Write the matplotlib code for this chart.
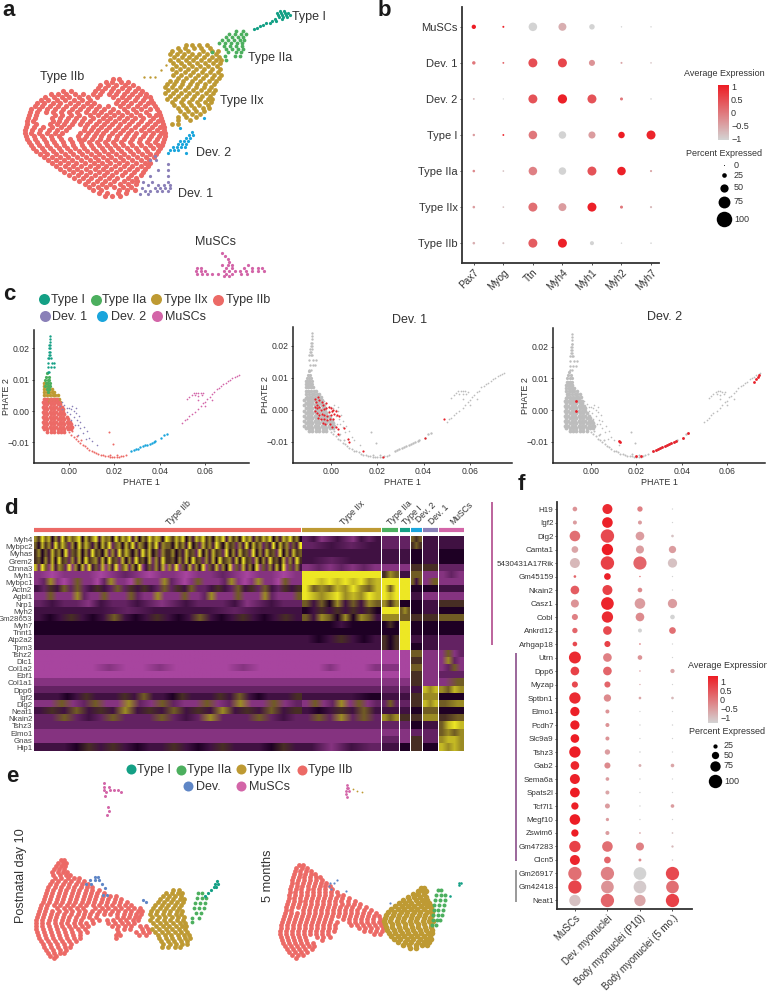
import numpy as np
import matplotlib
matplotlib.use('Agg')
import matplotlib.pyplot as plt
from matplotlib.colors import LinearSegmentedColormap, Normalize
from matplotlib.cm import ScalarMappable

plt.rcParams['font.family'] = ['Liberation Sans', 'DejaVu Sans']

W, H = 767, 992
C_I, C_IIA, C_IIX, C_IIB = '#14A085', '#4CAF5E', '#BE9A33', '#EC6A66'
C_D1, C_D2, C_MU, C_DEV = '#8A80B8', '#1AA5DC', '#D365A8', '#5F86C6'
TXT = '#333333'

# panel a, UMAP: {y: [x, ...]}
A_IIB = {
    79: [113, 119],
    82: [106, 112, 121, 128],
    85: [100, 108, 116, 125, 133],
    88: [98, 105, 113, 122, 129, 138],
    91: [63, 71, 95, 102, 111, 118, 127, 135, 142],
    94: [51, 58, 66, 75, 83, 93, 100, 109, 116, 124, 132, 140, 146],
    97: [45, 54, 62, 69, 79, 88, 97, 113, 122, 129, 137, 145, 150],
    100: [41, 48, 57, 65, 74, 82, 90, 118, 126, 135, 143, 151],
    103: [37, 44, 53, 60, 70, 78, 87, 94, 116, 123, 131, 140, 148, 153],
    106: [35, 42, 50, 58, 66, 75, 83, 91, 99, 108, 120, 128, 137, 145, 155],
    109: [31, 39, 47, 55, 63, 72, 80, 88, 96, 104, 113, 124, 133, 141, 150, 157],
    112: [30, 37, 46, 53, 61, 69, 77, 86, 94, 101, 110, 118, 127, 136, 146, 159],
    115: [29, 36, 55, 62, 71, 79, 90, 98, 106, 114, 122, 131, 140, 149, 156, 160],
    118: [28, 35, 52, 60, 68, 76, 84, 93, 103, 110, 119, 127, 135, 143, 153, 161],
    121: [27, 33, 53, 59, 66, 74, 82, 90, 99, 107, 115, 124, 132, 141, 150, 158, 162],
    124: [27, 36, 50, 57, 64, 72, 80, 87, 96, 104, 112, 120, 129, 138, 147, 155, 163],
    127: [26, 34, 43, 52, 61, 69, 85, 93, 101, 109, 118, 126, 135, 144, 152, 160, 164],
    130: [25, 32, 40, 49, 57, 66, 84, 91, 98, 106, 115, 123, 131, 141, 149, 157, 164],
    133: [25, 31, 39, 47, 55, 62, 80, 88, 96, 103, 112, 120, 128, 136, 145, 153, 161, 165],
    136: [26, 34, 42, 51, 59, 78, 86, 94, 101, 109, 117, 126, 134, 143, 151, 159, 165],
    139: [27, 35, 44, 52, 61, 70, 79, 84, 92, 100, 108, 116, 124, 132, 140, 149, 157, 164],
    142: [29, 37, 46, 54, 63, 72, 81, 89, 97, 105, 113, 121, 130, 139, 147, 155, 163],
    145: [31, 39, 47, 56, 64, 73, 82, 91, 99, 107, 115, 123, 132, 141, 150, 158, 162],
    148: [33, 42, 50, 59, 67, 75, 84, 93, 102, 110, 118, 127, 136, 145, 153, 160],
    151: [36, 44, 53, 61, 70, 79, 87, 96, 104, 112, 121, 130, 138, 147, 158],
    154: [40, 47, 56, 65, 73, 82, 91, 99, 108, 116, 124, 133, 142, 150, 156],
    157: [44, 52, 60, 68, 77, 86, 95, 103, 111, 120, 128, 137, 146, 154],
    160: [48, 56, 64, 72, 81, 90, 98, 107, 115, 123, 132, 141, 149],
    163: [52, 60, 68, 76, 85, 94, 102, 110, 119, 127, 136, 145, 150],
    166: [56, 65, 73, 81, 90, 98, 106, 115, 124, 132, 141, 148],
    169: [60, 69, 77, 86, 95, 103, 111, 120, 129, 137, 145],
    172: [64, 73, 81, 90, 99, 107, 116, 125, 134, 143],
    175: [69, 78, 86, 95, 104, 112, 122, 131, 141],
    178: [74, 83, 91, 100, 109, 117, 128, 136],
    181: [79, 88, 97, 105, 114, 124, 132, 137],
    184: [85, 93, 102, 110, 120, 128, 136],
    187: [89, 98, 106, 114, 123, 131],
    190: [93, 101, 119, 127, 135],
    193: [99, 107, 118, 126],
    196: [105, 112, 120],
}
A_IIX = {
    45: [186, 192, 199, 207],
    48: [178, 185, 194, 201, 210],
    51: [172, 180, 188, 203, 212, 218],
    54: [170, 177, 184, 192, 199, 207, 216],
    57: [174, 182, 189, 196, 204, 212, 219],
    60: [170, 178, 186, 193, 201, 209, 216, 221],
    63: [173, 181, 189, 197, 205, 213, 220],
    66: [176, 184, 192, 200, 208, 217],
    69: [172, 180, 188, 196, 204, 212, 220],
    72: [176, 185, 193, 202, 210, 218],
    75: [173, 181, 190, 198, 206, 214, 221],
    78: [178, 186, 195, 203, 212, 219],
    81: [170, 176, 183, 192, 200, 209, 216],
    84: [167, 174, 182, 190, 197, 205, 214],
    87: [165, 172, 180, 188, 196, 204, 211],
    90: [168, 176, 185, 193, 201, 209, 215],
    93: [165, 173, 181, 189, 197, 206, 213],
    96: [170, 178, 186, 194, 202, 210],
    99: [167, 175, 183, 192, 200, 208, 212],
    102: [172, 181, 189, 197, 205, 211],
    105: [174, 183, 191, 199, 208],
    108: [178, 186, 194, 203, 209],
    111: [180, 188, 196, 204],
    114: [184, 192, 200],
    117: [178, 186, 196],
    120: [178, 190],
    124: [172, 178],
}
A_IIX_STRAY = {77: [155, 150, 144], 70: [161], 65: [166]}
A_IIA = {
    31: [236, 243],
    34: [229, 235, 241, 246],
    37: [226, 232, 238, 243],
    40: [222, 228, 234, 240, 244],
    43: [219, 225, 231, 237, 242],
    46: [224, 230, 236, 242],
    49: [226, 232, 238, 243],
    52: [236, 241, 228, 212],
    56: [240, 235, 225],
    60: [226],
}
A_I = {
    11: [280, 284],
    13: [277, 281, 285, 288],
    15: [278, 282, 286, 290],
    17: [279, 283, 287],
    19: [275, 282],
    21: [272, 276],
    23: [266, 270],
    25: [263],
    26: [260],
    28: [257],
    29: [254],
}
A_D2 = {
    132: [192],
    135: [189, 193],
    138: [186, 190],
    141: [184, 188, 180],
    144: [178, 182, 186],
    147: [173, 177, 181, 185],
    150: [170, 174, 178],
    153: [168, 186],
    128: [180],
    118: [204],
}
A_D1 = {
    164: [168],
    170: [168, 158],
    176: [168, 150],
    182: [168, 143, 152],
    185: [158, 164, 170, 148],
    188: [155, 160, 165, 170, 142],
    191: [157, 162, 168, 145, 150],
    194: [148, 140],
    160: [150, 156],
    156: [155],
}
A_MU = {
    253: [222],
    256: [225],
    259: [228],
    262: [229],
    265: [228, 232, 222, 248],
    268: [197, 201, 226, 232, 244, 252, 258, 262],
    271: [196, 201, 205, 224, 229, 235, 240, 246, 252, 258, 264],
    274: [197, 202, 207, 212, 218, 226, 232, 241, 247],
    276: [224, 229],
}

# panel c, PHATE 1 / PHATE 2 in thousandths: {phate2: [phate1, ...]}
PH_IIB_CORE = {
    -6.6: [-9.5, -8, -6.5, -5, -3.5, -2],
    -5.8: [-11, -9.5, -8, -6.5, -5, -3.5, -2, -0.5, 1],
    -5: [-11.5, -10, -8.5, -7, -5.5, -4, -2.5, -1, 0.5, 1.5],
    -4.2: [-11, -9.5, -8, -6.5, -5, -3.5, -2, -0.5, 1],
    -3.4: [-11.5, -10, -8.5, -7, -5.5, -4, -2.5, -1, 0.3],
    -2.6: [-11, -9.5, -8, -6.5, -5, -3.5, -2, -0.5],
    -1.8: [-11.5, -10, -8.5, -7, -5.5, -4, -2.5, -1],
    -1: [-11, -9.5, -8, -6.5, -5, -3.5, -2],
    -0.2: [-11.5, -10, -8.5, -7, -5.5, -4, -2.5],
    0.6: [-11, -9.5, -8, -6.5, -5, -3.5, -2.6],
    1.4: [-11.5, -10, -8.5, -7, -5.5, -4, -3],
    2.2: [-11, -9.5, -8, -6.5, -5, -3.8],
    3: [-11.5, -10, -8.5, -7, -5.5, -4.4],
    3.8: [-11, -9.5, -8, -6.5, -5.2],
}
PH_IIB_TAIL = [(0.1, -6.8), (1, -7.5), (2, -8.2), (3, -9), (4, -9.5), (5, -10.2), (6, -10.8), (7, -11.3),
               (8, -11.8), (9, -12.3), (10, -12.8), (11, -13), (12, -13.3), (13, -13.8), (14, -14), (15, -14.2),
               (16, -14.4), (17, -14.5), (18, -14.6), (19, -14.7), (20, -14.7), (21, -14.8), (22, -14.8),
               (23, -14.5), (24, -14.3), (25, -14), (1.5, -6.5), (3.5, -8), (5.5, -9.3), (18, -14), (21, -14.2),
               (19.5, -10.5), (17.5, -6.8)]
PH_IIX_CORE = {
    9: [-10.8, -9.5],
    8: [-11, -9.8, -8.6],
    7: [-11, -9.8, -8.6, -7.6],
    6: [-11, -9.8, -8.6, -7.4, -6.4],
    5: [-10.8, -9.6, -8.4, -7.2, -6, -5],
    4: [-10.4, -9.2, -8, -6.8, -5.6, -4.4],
    3: [-9.8, -8.6, -7.4, -6.2, -5, -3.8],
}
PH_IIA_CORE = {
    12: [-9.6],
    11: [-10, -9],
    10: [-10.4, -9.4, -8.6],
    9: [-10.2, -9.2, -8.4],
    8: [-10.4, -9.2, -8.2],
    7: [-9.8, -8.6],
    6: [-9.4],
}
PH_I_CORE = {
    24: [-8.3],
    23: [-8.4],
    22: [-8.4],
    21: [-8.6, -8.2],
    20: [-8.7, -8.2],
    19: [-8.9, -8.3],
    18: [-9, -8.5],
    17: [-9.3, -8.6, -8],
    15.5: [-9.4, -7.6, -6.4],
    14: [-9.2, -7.9, -6.8],
    12.5: [-9.4, -8.6],
}
PH_D1 = [(-4, 1.5), (-3, 0.5), (-2, 2), (-1, 1), (0, 1), (1, 0.5), (2, 0), (3, -0.5), (0.5, -0.8), (-1, -0.2),
         (2, -2), (1, -2.8), (3.5, -3), (4, -4.5), (5, -5.5), (6, -7), (7.5, -9), (10, -9.5), (1.5, 1.5), (-3, 2.8),
         (3, 1), (4.5, -1.5), (5, -3.5), (2.5, -4.5), (6.5, -5), (8, -6.5), (4, -7.5), (9, -8.5), (12.5, -11)]
PH_D2 = [(27.5, -12.9), (28.5, -12.5), (29.5, -12.2), (30.5, -12), (31.5, -11.5), (32.5, -11.2), (33.5, -11),
         (34.5, -10.7), (35.5, -10.4), (36.5, -10.1), (37.5, -9.8), (38, -9.5), (40.5, -8.7), (42, -7.5), (43, -7.2)]
PH_MU = [(50, -3.8), (51, -3), (52, -2.5), (53, -1.6), (54, -1), (55.5, -0.2), (57, 0.5), (58, 1.5), (59, 2.5),
         (60, 3), (61, 4), (62, 4.5), (63, 5.5), (64, 6), (65, 7), (66, 7.5), (67, 8), (68, 8.5), (69, 9), (70, 9.7),
         (71, 10), (72, 10.5), (73, 11), (74, 11.3), (74.8, 11.6), (54, 5.2), (55, 5.8), (56, 5.9), (57, 5.9),
         (58, 5.8), (59, 5.7), (55.5, 5), (57, 4.9), (58.5, 5), (53, 4.5), (52, 3.8), (57, 3.5), (60, 1.5), (63, 3.5)]
RED_D1 = [(-7, 3.5), (-6.5, 2.5), (-5.5, 4), (-5, 3), (-4, 2.5), (-6, 1.5), (-7, 1), (-5, 1), (-3.5, 1.5), (-2, 2),
          (-6, 0.5), (-4.5, 0), (-7, -0.3), (-3, 0.3), (-2, 0.5), (-1, 1), (0, 0.5), (1, 0), (2, -0.3), (0.5, -0.5),
          (-1, -0.8), (-6, -1), (-5, -1.5), (-4, -1.2), (-3, -1.5), (-1.5, -1.8), (0, -1.5), (1.2, -1.3), (2.5, -1.5),
          (3.5, -1.8), (-5.5, -2.5), (-4.5, -3), (-3, -2.7), (-1.8, -3.2), (-0.5, -3), (0.8, -2.8), (-3.5, -4),
          (-2.5, -4.5), (-0.5, -4.3), (0.5, -5.5), (2, -5.3), (3, -6), (3, -7.5), (5.5, -5.8), (7.5, -9), (8, -10),
          (14, -13), (22.5, -14.8), (40.5, -8.8), (49, -3)]
RED_D2 = [(27.5, -12.9), (28.5, -12.6), (29.5, -12.3), (30.5, -12.1), (31.5, -11.7), (32.5, -11.4), (33.5, -11.1),
          (34.5, -10.8), (35.5, -10.5), (36.5, -10.2), (37.5, -9.9), (40.5, -8.9), (43, -7.3), (72, 9), (72.7, 9.8),
          (73.5, 10.5), (74.2, 11.2), (-6.5, 3), (-6.5, -0.3), (12.3, -9.7), (12.6, -10.2), (22, -14.5), (20, -14.6)]

# panel e, UMAP
E1_IIB = {
    860: [61, 64],
    863: [58, 63, 66],
    866: [56, 61, 65],
    869: [54, 59, 64],
    872: [52, 58, 63, 67],
    875: [53, 60, 66, 70],
    878: [55, 61, 68, 74, 79],
    881: [52, 58, 65, 71, 78, 84],
    884: [50, 56, 63, 69, 76, 82, 88],
    887: [48, 55, 61, 68, 74, 81, 87, 92],
    890: [47, 53, 60, 66, 73, 79, 86, 92, 99],
    893: [46, 52, 59, 65, 72, 78, 85, 91, 97, 104],
    896: [45, 51, 58, 64, 71, 77, 84, 90, 96, 103, 110, 116],
    899: [44, 50, 57, 63, 70, 76, 83, 89, 95, 102, 108, 115, 121],
    902: [43, 49, 56, 62, 69, 75, 82, 88, 94, 101, 107, 114, 120, 127],
    905: [41, 47, 54, 60, 67, 73, 80, 86, 93, 99, 106, 112, 119, 125, 131],
    908: [40, 46, 57, 64, 70, 77, 83, 95, 102, 108, 115, 121, 128, 134, 140],
    911: [39, 45, 52, 59, 66, 72, 79, 85, 92, 99, 105, 112, 118, 125, 131, 138, 142],
    914: [38, 44, 51, 57, 64, 71, 78, 84, 90, 97, 104, 110, 117, 124, 130, 136, 141],
    917: [37, 43, 50, 56, 63, 69, 76, 83, 89, 96, 117, 123, 129, 135, 139],
    920: [36, 42, 49, 55, 62, 68, 75, 81, 92, 99, 107, 113, 120, 126, 133, 138],
    923: [36, 42, 48, 55, 61, 67, 74, 80, 86, 93, 108, 115, 122, 128, 134],
    926: [36, 42, 49, 56, 62, 69, 75, 82, 88, 112, 118, 125, 131, 140, 146],
    929: [36, 43, 50, 57, 64, 71, 78, 85, 117, 124, 130, 142, 148],
    932: [37, 44, 51, 58, 65, 72, 80, 87, 118, 136, 143, 149],
    935: [38, 45, 52, 59, 66, 73, 80, 116, 120, 139, 146],
    938: [39, 46, 53, 60, 67, 74, 80, 116],
    941: [41, 48, 55, 62, 69, 76],
    944: [43, 50, 57, 64, 71],
    947: [44, 51, 58, 65, 70],
    950: [46, 53, 60, 66],
    953: [48, 54, 60, 64],
    956: [50, 56],
    958: [54],
}
E1_IIX = {
    890: [173, 179],
    893: [166, 172, 178, 182],
    896: [163, 169, 175, 181],
    899: [160, 167, 173, 180, 184],
    902: [158, 164, 171, 177, 183],
    905: [155, 162, 168, 175, 181],
    908: [153, 160, 166, 173, 179],
    911: [151, 157, 164, 170, 177, 182],
    914: [150, 156, 163, 169, 176, 181],
    917: [152, 159, 165, 172, 178, 184],
    920: [150, 157, 164, 170, 177, 183],
    923: [153, 160, 166, 173, 180, 185],
    926: [156, 163, 169, 176, 182, 186],
    929: [152, 159, 166, 172, 179, 185],
    932: [155, 162, 168, 175, 181, 187],
    935: [158, 165, 171, 178, 184, 189],
    938: [159, 166, 172, 179, 185, 190],
    941: [161, 168, 174, 181, 187],
    944: [163, 170, 176, 182, 187],
    947: [162, 168, 175, 180],
}
E1_IIA = {
    893: [198, 202],
    898: [197, 202, 206],
    903: [195, 200, 205],
    908: [194, 199, 204],
    913: [196, 201],
    918: [192, 199],
    922: [192],
}
E1_I = {881: [217], 884: [215, 218], 887: [214, 216], 890: [211], 893: [208], 896: [205]}
E1_DEV = {877: [95, 98], 880: [90, 95, 99], 884: [86, 91, 102], 888: [105], 895: [103, 107], 900: [143], 902: [146]}
E1_MU = {783: [104], 787: [104, 109], 790: [104, 110, 114, 118], 792: [106, 121], 796: [105],
         807: [108], 811: [109], 815: [107]}
E2_IIB = {
    865: [299, 303],
    868: [296, 302, 307],
    871: [295, 300, 306, 311],
    874: [294, 300, 305, 311, 315],
    877: [293, 299, 304, 310, 316, 320],
    880: [292, 298, 304, 310, 316, 322],
    883: [292, 297, 303, 309, 315, 321, 326],
    886: [291, 297, 302, 308, 314, 320, 325, 330],
    889: [290, 296, 301, 308, 313, 319, 325, 332],
    892: [290, 295, 301, 307, 313, 319, 325, 331, 337],
    895: [289, 295, 301, 307, 313, 319, 325, 331, 338, 343],
    898: [289, 294, 300, 306, 312, 318, 324, 330, 336, 342, 349],
    901: [288, 294, 300, 305, 311, 317, 323, 329, 335, 341, 348, 355],
    904: [287, 293, 299, 305, 311, 317, 323, 329, 335, 342, 348, 354, 360],
    907: [286, 292, 298, 304, 310, 316, 322, 328, 334, 340, 346, 352, 359, 366],
    910: [286, 291, 303, 309, 315, 321, 327, 333, 339, 345, 351, 357, 364, 371],
    913: [285, 291, 297, 303, 309, 315, 321, 327, 333, 339, 345, 351, 357, 363, 369, 376],
    916: [284, 290, 296, 302, 308, 314, 320, 326, 332, 338, 344, 350, 356, 362, 368, 374, 379],
    919: [283, 289, 295, 301, 307, 313, 319, 325, 331, 343, 349, 355, 361, 367, 373, 380],
    922: [282, 288, 294, 300, 306, 312, 318, 324, 330, 337, 349, 355, 361, 367, 373, 379, 382],
    925: [281, 287, 293, 299, 305, 311, 317, 323, 329, 335, 351, 357, 363, 369, 375, 381],
    928: [281, 287, 293, 299, 305, 311, 317, 323, 329, 335, 359, 365, 371, 377, 383],
    931: [280, 286, 292, 298, 304, 310, 316, 322, 328, 334, 364, 370, 376, 382],
    934: [280, 286, 292, 298, 304, 310, 316, 322, 328, 374, 380],
    937: [281, 287, 293, 299, 305, 317, 323, 330],
    940: [282, 288, 294, 300, 306, 322],
    943: [283, 289, 295, 301, 307, 313],
    946: [285, 291, 297, 303, 309, 314],
    949: [287, 293, 299, 305, 312],
    952: [289, 295, 301, 307],
    955: [292, 298, 303],
    958: [296],
}
E2_IIX = {
    888: [421, 424],
    891: [418, 423, 426],
    894: [413, 418, 424],
    897: [408, 414, 420, 426],
    900: [403, 409, 416, 422, 427],
    903: [399, 405, 411, 418, 424, 429],
    906: [395, 402, 408, 414, 421, 427, 431],
    909: [391, 398, 404, 411, 417, 424, 431],
    912: [388, 394, 401, 407, 414, 420, 427, 432],
    915: [386, 393, 399, 406, 412, 419, 425, 432],
    918: [385, 391, 398, 404, 411, 417, 424, 430],
    921: [384, 390, 397, 403, 410, 416, 423, 429, 433],
    924: [385, 392, 398, 405, 411, 418, 424, 431],
    927: [386, 392, 399, 405, 412, 418, 425, 431],
    930: [387, 394, 400, 407, 413, 420, 426, 432],
    933: [389, 395, 402, 408, 415, 421, 428, 432],
    936: [391, 398, 404, 411, 417, 424, 430],
    939: [394, 400, 407, 413, 420, 426, 431],
    942: [398, 405, 411, 418, 424, 429],
    945: [403, 409, 416, 422, 427],
    948: [410, 416],
}
E2_IIA = {
    890: [438, 441],
    895: [436, 441, 445],
    900: [435, 440, 445],
    905: [434, 439, 444],
    910: [434, 438, 443],
    915: [433, 438, 442],
    920: [433, 437, 440],
    925: [432, 436],
}
E2_I = {883: [459, 461], 885: [459], 896: [450]}
E2_DEV = {880: [337], 883: [330, 334], 886: [329], 889: [331], 891: [346], 903: [390]}
E2_MU = {785: [347], 788: [347, 348], 791: [346, 349], 794: [346], 797: [347]}
E2_STRAY = {789: [353], 791: [357], 792: [362]}

# panel b
B_GENES = ['Pax7', 'Myog', 'Ttn', 'Myh4', 'Myh1', 'Myh2', 'Myh7']
B_ROWS = ['Type IIb', 'Type IIx', 'Type IIa', 'Type I', 'Dev. 2', 'Dev. 1', 'MuSCs']
B_PCT = [[11, 7, 55, 55, 21, 3, 4],
         [11, 5, 55, 48, 55, 14, 8],
         [11, 5, 52, 45, 55, 52, 8],
         [10, 6, 52, 45, 42, 38, 55],
         [6, 2, 55, 57, 55, 14, 4],
         [17, 6, 55, 55, 35, 7, 4],
         [23, 7, 52, 48, 31, 3, 3]]
B_EXP = [[-0.6, -0.8, 0.3, 0.95, -1, -1, -1],
         [-0.4, -0.8, 0.1, -0.4, 0.95, 0, -0.7],
         [-0.2, -0.8, -0.1, -1, 0.4, 0.95, -0.5],
         [-0.4, 0.9, 0, -1, -0.4, 1, 0.9],
         [-0.7, -1, 0.4, 0.95, 0.4, 0, -1],
         [0, 0.2, 0.45, 0.55, -0.3, -0.5, -0.8],
         [1, 0.9, -1, -0.6, -1, -1, -1]]

# panel f
F_COLS = ['MuSCs', 'Dev. myonuclei', 'Body myonuclei (P10)', 'Body myonuclei (5 mo.)']
F_GENES = ['H19', 'Igf2', 'Dlg2', 'Camta1', '5430431A17Rik', 'Gm45159', 'Nkain2', 'Casz1', 'Cobl', 'Ankrd12',
           'Arhgap18', 'Utrn', 'Dpp6', 'Myzap', 'Sptbn1', 'Elmo1', 'Pcdh7', 'Slc9a9', 'Tshz3', 'Gab2', 'Sema6a',
           'Spats2l', 'Tcf7l1', 'Megf10', 'Zswim6', 'Gm47283', 'Clcn5', 'Gm26917', 'Gm42418', 'Neat1']
F_PCT = [[28, 72, 34, 1], [23, 77, 23, 1], [77, 100, 61, 12], [45, 83, 56, 50], [72, 100, 98, 66],
         [12, 45, 2, 1], [61, 72, 28, 1], [56, 94, 77, 66], [40, 83, 61, 28], [34, 61, 23, 45],
         [28, 40, 4, 1], [88, 61, 28, 1], [61, 61, 2, 25], [40, 40, 1, 1], [83, 50, 12, 12],
         [66, 23, 1, 1], [66, 23, 2, 2], [61, 23, 1, 1], [83, 34, 3, 1], [61, 40, 14, 20],
         [72, 20, 2, 1], [70, 23, 2, 1], [50, 31, 2, 20], [77, 17, 2, 1], [50, 23, 4, 4],
         [83, 77, 56, 9], [72, 45, 14, 2], [99, 99, 94, 99], [99, 94, 94, 94], [83, 99, 83, 99]]
F_EXP = [[-0.3, 0.85, -0.1, -1], [-0.4, 0.95, -0.4, -1], [0.1, 0.5, -0.4, -0.8], [-0.5, 1, -0.4, -0.4],
         [-0.7, 0.6, 0.2, -0.8], [0.2, 0.95, 0.1, -1], [0.3, 0.6, -0.2, -1], [-0.3, 0.9, -0.4, -0.4],
         [-0.1, 0.85, -0.2, -1], [0.2, 0.5, -1, 0.1], [0.5, 0.6, -0.1, -1], [0.85, -0.1, -0.3, -1],
         [0.6, 0.2, -0.3, -0.5], [0.5, 0.2, -0.5, -1], [0.85, -0.2, -0.5, -0.7], [0.95, -0.3, -1, -1],
         [0.95, -0.3, -1, -1], [1, -0.3, -1, -1], [1, -0.4, -1, -1], [0.9, -0.2, -0.6, -0.5],
         [0.95, -0.4, -1, -1], [1, -0.5, -1, -1], [0.95, -0.4, -1, -0.4], [1, -0.4, -1, -1],
         [1, -0.4, -0.5, -0.8], [0.6, 0.1, -0.1, -0.7], [0.9, 0.2, -0.2, -0.9], [0.1, -0.1, -1, 0.5],
         [0.55, -0.3, -0.9, 0.1], [-0.8, 0.2, -0.5, 0.6]]

# panel d, one digit per stripe, 0 magenta, 4 black, 9 yellow
D_GENES = ['Myh4', 'Mybpc2', 'Myhas', 'Grem2', 'Ctnna3', 'Myh1', 'Mybpc1', 'Actn2', 'Agbl1', 'Nrp1', 'Myh2',
           'Gm28653', 'Myh7', 'Tnnt1', 'Atp2a2', 'Tpm3', 'Tshz2', 'Dlc1', 'Col1a2', 'Ebf1', 'Col1a1', 'Dpp6',
           'Igf2', 'Dlg2', 'Neat1', 'Nkain2', 'Tshz3', 'Elmo1', 'Gnas', 'Hip1']
D_IIB = ['75968473958679485793867495869384759687497586947386957486938574968375869473869574',
         '64857395862749586374859267485937648593766485739462857396485627394857263948572639',
         '57463857492658473956482739586473958462755746385629473856294738562947385629473856',
         '56473849562738495673849562847395648273955647384956273849567384956284739564827395',
         '82961837629174829362817391682749136273817291638274916382749162837491627384916273',
         '1011101210110112101101',
         '1271016110271106111721016111271017110611', '3253626235326253532625362235326352632535',
         '1161117211611162117111611271116111721116', '2322132232123222312322', '3332333233',
         '3435343634353436343534353', '4', '4', '3', '3', '0', '0', '0000100100001000', '0', '1', '2',
         '3334353335363345333536343335', '116126117216211612711612', '3536353735363537353635',
         '2262326222623272226232', '2', '1', '1', '3334535343353435333453']
D_IIX = ['2312321323', '2323', '3', '3233', '1212121', '9', '9989898978', '9676879768', '9878978798',
         '6364736376', '4353535354', '6376474763', '4443444', '4', '3435343', '3', '0', '0', '0010001', '0', '1', '2',
         '3334', '161271612', '3435363', '2627262', '2', '1', '1', '3132']
D_IIA = ['2', '2', '3', '3', '1', '576', '9', '969', '989', '757', '9', '7', '454', '4', '545', '545', '0', '0', '1',
         '0', '1', '2', '3', '262', '3', '767', '2', '1', '2', '3']
D_I = ['2', '2', '3', '3', '1', '3', '9', '9', '9', '4', '676', '6', '9', '9', '9', '9', '0', '0', '0', '0', '1', '2',
       '3', '2', '3', '5', '2', '1', '1', '4']
D_D2 = ['656', '565', '4', '4', '5', '6', '636', '4', '3', '4', '4', '5', '4', '4', '3', '4', '6', '5', '6', '5', '5',
        '3', '5', '5', '4', '5', '4', '2', '5', '5']
D_D1 = ['3', '3', '3', '3', '5', '1', '16', '4', '1', '3', '3', '5', '4', '4', '3', '3', '1', '1', '1', '1', '1',
        '878', '7', '878', '6', '7', '3', '2', '2', '4']
D_MU = ['3', '3', '4', '4', '2', '121', '1', '3', '1', '5', '4', '6', '4', '4', '2', '2', '1612', '1721', '1261', '2',
        '16', '7687', '4', '67', '4', '56', '6898', '6767', '7887', '8787']
D_GROUPS = [('Type IIb', D_IIB, C_IIB), ('Type IIx', D_IIX, C_IIX), ('Type IIa', D_IIA, C_IIA), ('Type I', D_I, C_I),
            ('Dev. 2', D_D2, C_D2), ('Dev. 1', D_D1, C_D1), ('MuSCs', D_MU, C_MU)]
D_EDGES = [(34, 301), (302, 381), (382, 398), (400, 410), (411, 422), (423, 438), (439, 464)]

DOT_CMAP = LinearSegmentedColormap.from_list('dot', ['#D3D3D3', '#ED1C24'])
HEAT_CMAP = LinearSegmentedColormap.from_list('heat', [(0, '#A8459F'), (4 / 9, '#1E0024'), (1, '#EDE724')])

fig = plt.figure(figsize=(W / 100, H / 100), dpi=100)


def px_ax(l, t, r, b):
    return fig.add_axes([l / W, 1 - b / H, (r - l) / W, (b - t) / H])


def flat(rows):
    pts = [(x, y) for y, xs in rows.items() for x in xs]
    return np.array(pts, dtype=float)


def sz(d):
    return (d * 0.72) ** 2


def cloud(ax, rows, color, d):
    pts = flat(rows)
    ax.scatter(pts[:, 0], pts[:, 1], s=sz(d), c=color, linewidths=0)


def umap_ax(l, t, r, b):
    ax = px_ax(l, t, r, b)
    ax.set_xlim(l, r)
    ax.set_ylim(b, t)
    ax.axis('off')
    return ax


# overlay for loose text, in pixels of the figure
ov = umap_ax(0, 0, W, H)
ov.set_zorder(10)
ov.patch.set_alpha(0)

for s, x, y in [('a', 9, 10), ('b', 384, 10), ('c', 9, 295), ('d', 11, 509), ('e', 12, 777), ('f', 521, 484)]:
    ov.text(x, y, s, fontsize=16, fontweight='bold', color='#1a1a1a', ha='center', va='center')

# a
ax = umap_ax(0, 0, 380, 290)
cloud(ax, A_IIB, C_IIB, 5.2)
cloud(ax, A_IIX, C_IIX, 4.8)
cloud(ax, A_IIX_STRAY, C_IIX, 2.4)
cloud(ax, A_IIA, C_IIA, 3.8)
cloud(ax, A_I, C_I, 3.2)
cloud(ax, A_D2, C_D2, 3.2)
cloud(ax, A_D1, C_D1, 3.2)
cloud(ax, A_MU, C_MU, 3.2)
for s, x, y in [('Type I', 309, 17), ('Type IIa', 270, 58), ('Type IIx', 242, 101), ('Type IIb', 62, 77),
                ('Dev. 2', 214, 153), ('Dev. 1', 196, 194), ('MuSCs', 215, 242)]:
    ov.text(x, y, s, fontsize=9, color=TXT, ha='center', va='center')


def dotplot(ax, xlabels, ylabels, pct, exp, scale, fs_y, fs_x):
    pct = np.array(pct, dtype=float)
    exp = np.array(exp, dtype=float)
    xx, yy = np.meshgrid(np.arange(len(xlabels)), np.arange(len(ylabels)))
    d = scale[0] + scale[1] * pct
    ax.scatter(xx.ravel(), yy.ravel(), s=sz(d.ravel()), c=exp.ravel(), cmap=DOT_CMAP, vmin=-1, vmax=1,
               linewidths=0, clip_on=False, zorder=3)
    ax.set_xticks(np.arange(len(xlabels)))
    ax.set_xticklabels(xlabels, rotation=45, ha='right', rotation_mode='anchor', fontsize=fs_x, color=TXT)
    ax.set_yticks(np.arange(len(ylabels)))
    ax.set_yticklabels(ylabels, fontsize=fs_y, color=TXT)
    ax.tick_params(length=1.5, width=0.6, pad=1.5, color='#333333')
    for k in ['top', 'right']:
        ax.spines[k].set_visible(False)
    for k in ['left', 'bottom']:
        ax.spines[k].set_linewidth(1.3)
        ax.spines[k].set_color('#333333')


def dot_legend(bar, lim, cticks, title1, title2, vals, ys, xdot, xlab, scale, fs):
    ov.text(title1[0], title1[1], 'Average Expression', fontsize=fs, color=TXT, ha='center', va='center')
    ov.text(title2[0], title2[1], 'Percent Expressed', fontsize=fs, color=TXT, ha='center', va='center')
    cax = px_ax(*bar)
    cb = fig.colorbar(ScalarMappable(Normalize(-lim, lim), DOT_CMAP), cax=cax, ticks=cticks)
    cb.outline.set_visible(False)
    cb.ax.set_yticklabels([str(t).replace('-', '\u2212') for t in cticks], fontsize=fs, color=TXT)
    cb.ax.tick_params(length=0, pad=1.5)
    for v, y in zip(vals, ys):
        ov.scatter([xdot], [y], s=sz(scale[0] + scale[1] * v), c='black', linewidths=0)
        ov.text(xlab, y, str(v), fontsize=fs, color=TXT, ha='left', va='center')


# b
ax = px_ax(462, 7, 659, 263)
ax.set_xlim(-0.4, 6.27)
ax.set_ylim(-0.55, 6.55)
dotplot(ax, B_GENES, B_ROWS, B_PCT, B_EXP, (1, 0.145), 8, 7.2)
dot_legend((718, 85, 729, 140), 1.05, [-1, -0.5, 0, 0.5, 1], (724, 73), (724, 154), [0, 25, 50, 75, 100],
           [165, 175, 188, 202, 219], 724, 734, (1, 0.145), 6.5)

# c
PH_ALL = [(PH_IIX_CORE, C_IIX, 3.6), (PH_IIB_CORE, C_IIB, 3.8), (PH_IIA_CORE, C_IIA, 3.2), (PH_I_CORE, C_I, 2.4)]
PH_SMALL = [(PH_IIB_TAIL, C_IIB, 2), (PH_D1, C_D1, 1.6), (PH_D2, C_D2, 2.4), (PH_MU, C_MU, 1.7)]
GRAY = '#BDBDBD'


def phate_ax(l, t, r, b, xlim, ylim):
    ax = px_ax(l, t, r, b)
    ax.set_xlim(*xlim)
    ax.set_ylim(*ylim)
    ax.set_xticks([0, 0.02, 0.04, 0.06])
    ax.set_xticklabels(['0.00', '0.02', '0.04', '0.06'])
    ax.set_yticks([-0.01, 0, 0.01, 0.02])
    ax.set_yticklabels(['\u22120.01', '0.00', '0.01', '0.02'])
    ax.tick_params(labelsize=6.2, length=1.5, width=0.6, pad=1.5, colors=TXT)
    ax.set_xlabel('PHATE 1', fontsize=6.5, color=TXT, labelpad=1)
    ax.set_ylabel('PHATE 2', fontsize=6.5, color=TXT)
    ax.yaxis.set_label_coords(-23 / (r - l), 0.5)
    for k in ['top', 'right']:
        ax.spines[k].set_visible(False)
    for k in ['left', 'bottom']:
        ax.spines[k].set_linewidth(1.1)
        ax.spines[k].set_color('#222222')
    for rows, col, d in PH_ALL:
        pts = flat(rows) * 1e-3
        ax.scatter(pts[:, 0], pts[:, 1], s=sz(d), c=col, linewidths=0)
    for pts, col, d in PH_SMALL:
        pts = np.array(pts) * 1e-3
        ax.scatter(pts[:, 0], pts[:, 1], s=sz(d), c=col, linewidths=0)
    return ax


c1 = phate_ax(34, 330, 249, 463, (-0.0154, 0.0793), (-0.0166, 0.0259))
PH_ALL = [(r, GRAY, d) for r, _, d in PH_ALL]
PH_SMALL = [(p, GRAY, d) for p, _, d in PH_SMALL]
c2 = phate_ax(293, 327, 512, 463, (-0.0164, 0.0782), (-0.0166, 0.0259))
pts = np.array(RED_D1) * 1e-3
c2.scatter(pts[:, 0], pts[:, 1], s=sz(2.2), c='#E8202A', linewidths=0, zorder=4)
c3 = phate_ax(553, 328, 765, 463, (-0.0168, 0.0768), (-0.0167, 0.0259))
pts = np.array(RED_D2) * 1e-3
c3.scatter(pts[:, 0], pts[:, 1], s=sz(2.8), c='#E8202A', linewidths=0, zorder=4)
ov.text(410, 320, 'Dev. 1', fontsize=9, color=TXT, ha='center', va='center')
ov.text(665, 317, 'Dev. 2', fontsize=9, color=TXT, ha='center', va='center')

for s, col, xd, yd, xl in [('Type I', C_I, 44, 299, 51), ('Type IIa', C_IIA, 96, 300, 102),
                           ('Type IIx', C_IIX, 156, 299, 164), ('Type IIb', C_IIB, 218, 300, 226),
                           ('Dev. 1', C_D1, 45, 316, 52), ('Dev. 2', C_D2, 102, 316, 111),
                           ('MuSCs', C_MU, 157, 316, 165)]:
    ov.scatter([xd], [yd], s=sz(11), c=col, linewidths=0)
    ov.text(xl, yd + 0.5, s, fontsize=9, color=TXT, ha='left', va='center')

# d
ax = px_ax(34, 536, 464, 751)
for (name, rows, col), (x0, x1) in zip(D_GROUPS, D_EDGES):
    for i, s in enumerate(rows):
        vals = np.array([int(c) for c in s]).reshape(1, -1)
        ax.imshow(vals, cmap=HEAT_CMAP, vmin=0, vmax=9, aspect='auto', interpolation='bilinear',
                  interpolation_stage='rgba', extent=(x0, x1, i + 1, i))
    ov.plot([x0, x1], [530, 530], color=col, lw=3, solid_capstyle='butt')
ax.set_xlim(34, 464)
ax.set_ylim(30, 0)
ax.set_xticks([])
ax.set_yticks(np.arange(30) + 0.5)
ax.set_yticklabels(D_GENES, fontsize=5.7, color='#444444')
ax.tick_params(length=0, pad=1)
for k in ax.spines:
    ax.spines[k].set_visible(False)
for (name, _, _), x, y in zip(D_GROUPS, [179, 353, 400, 412, 426, 439, 461], [513, 513, 513, 515, 513, 515, 513]):
    ov.text(x, y, name, fontsize=6.2, color=TXT, rotation=45, ha='center', va='center')

# e
ax = umap_ax(0, 750, 490, 970)
cloud(ax, E1_IIB, C_IIB, 4.8)
cloud(ax, E1_IIX, C_IIX, 4.8)
cloud(ax, E1_IIA, C_IIA, 3.8)
cloud(ax, E1_I, C_I, 3.2)
cloud(ax, E1_DEV, C_DEV, 3.2)
cloud(ax, E1_MU, C_MU, 3)
cloud(ax, E2_IIB, C_IIB, 4.8)
cloud(ax, E2_IIX, C_IIX, 5.6)
cloud(ax, E2_IIA, C_IIA, 4)
cloud(ax, E2_I, C_I, 2.6)
cloud(ax, E2_DEV, C_DEV, 2.2)
cloud(ax, E2_MU, C_MU, 2.8)
cloud(ax, E2_STRAY, C_IIX, 1.8)
for s, col, xd, yd, xl in [('Type I', C_I, 131, 769, 137), ('Type IIa', C_IIA, 181, 770, 187),
                           ('Type IIx', C_IIX, 241, 769, 247), ('Type IIb', C_IIB, 302, 770, 308),
                           ('Dev.', C_DEV, 188, 786, 196), ('MuSCs', C_MU, 241, 786, 249)]:
    ov.scatter([xd], [yd], s=sz(10), c=col, linewidths=0)
    ov.text(xl, yd + 0.5, s, fontsize=9, color=TXT, ha='left', va='center')
ov.text(21, 876, 'Postnatal day 10', fontsize=9.2, color=TXT, rotation=90, ha='center', va='center')
ov.text(268, 876, '5 months', fontsize=9.2, color=TXT, rotation=90, ha='center', va='center')

# f
ax = px_ax(557, 502, 692, 909)
ax.set_xlim(-0.55, 3.6)
ax.set_ylim(29.63, -0.52)
dotplot(ax, F_COLS, F_GENES, F_PCT, F_EXP, (1.2, 0.122), 5.8, 7)
ax.tick_params(axis='y', pad=1)
for x, y0, y1, col in [(492, 502, 645, '#B0498B'), (516, 653, 861, '#8A4E8A'), (516, 870, 902, '#888888')]:
    ov.plot([x, x], [y0, y1], color=col, lw=1.2, solid_capstyle='butt')
dot_legend((708, 676, 718, 723), 1.3, [-1, -0.5, 0, 0.5, 1], (728, 666), (727, 732), [25, 50, 75, 100],
           [746, 755, 766, 781], 715, 724, (1.2, 0.122), 6.5)

fig.savefig('out.png', dpi=100)
